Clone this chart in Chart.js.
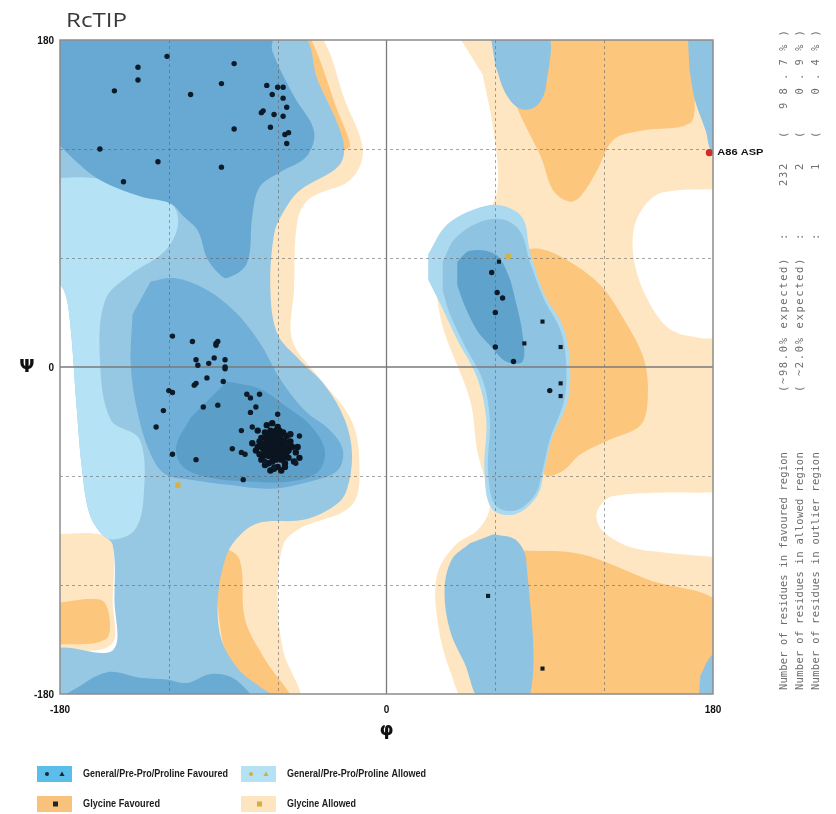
<!DOCTYPE html>
<html>
<head>
<meta charset="utf-8">
<title>RcTIP Ramachandran plot</title>
<script src="https://cdn.jsdelivr.net/npm/chart.js@4.4.0/dist/chart.umd.min.js"></script>
<style>
  html, body { margin: 0; padding: 0; background: #fff; }
  #wrap { width: 836px; height: 814px; }
</style>
</head>
<body>
<div id="wrap"><canvas id="ramaChart" width="836" height="814"></canvas></div>
<script>
// axis values (degrees)
const tickValues = [-180, 0, 180];
const gridValues = [-120, -60, 60, 120];

// region outlines as [phi, psi]
const glyAllowedRight = [[38,185],[185,185],[185,-185],[46,-185],[35,-167],[28,-139],[28,-114],[38,-98],[51,-89],[57,-76],[50,-46],[46,-18],[30,26],[30,53],[51,78],[61,97],[59,130],[53,161]];
const glyAllowedLeft = [[-53,183],[-37,183],[-23,147],[-13,119],[-20,103],[-42,93],[-49,81],[-51,42],[-52,15],[-37,-6],[-20,-28],[-15,-51],[-19,-76],[-48,-89],[-57,-98],[-60,-128],[-57,-156],[-48,-185],[-86,-185],[-94,-150],[-97,-117],[-92,-95],[-75,-73],[-70,37],[-64,92],[-59,147]];
const glyAllowedEdge = [[-183,-92],[-158,-92],[-151,-98],[-151,-128],[-152,-153],[-185,-156]];
const emptyRight = [[185,98],[152,96],[141,87],[136,74],[137,56],[144,37],[156,21],[173,16],[185,16]];
const emptyLowRight = [[185,-69],[125,-71],[116,-80],[119,-90],[134,-99],[152,-102],[185,-105]];
const glyFavTop = [[62,185],[170,185],[170,147],[167,134],[140,130],[125,125],[116,108],[107,94],[101,91],[92,97],[85,116],[75,136],[68,152]];
const glyFavMid = [[72,64],[85,65],[101,58],[118,45],[131,26],[142,4],[144,-18],[140,-32],[123,-40],[107,-48],[96,-58],[87,-59],[79,-29],[74,9],[71,37]];
const glyFavLow = [[76,-101],[107,-103],[144,-117],[185,-132],[185,-185],[76,-185]];
const glyFavEdge = [[-183,-130],[-158,-128],[-153,-136],[-155,-150],[-183,-153]];
const glyFavBand = [[-91,-98],[-81,-106],[-78,-139],[-67,-161],[-52,-185],[-75,-185],[-89,-156],[-94,-123]];
const glyFavStrip = [[-50,183],[-43,183],[-27,141],[-20,122],[-24,120],[-33,140]];

const genAllowedLeft = [[-183,183],[-48,183],[-38,158],[-24,125],[-26,111],[-48,97],[-57,85],[-62,73],[-64,42],[-60,18],[-48,4],[-34,-10],[-23,-29],[-19,-48],[-22,-68],[-28,-76],[-45,-84],[-71,-86],[-83,-95],[-89,-106],[-93,-128],[-91,-150],[-81,-167],[-61,-185],[-183,-185],[-183,-156],[-151,-156],[-150,-128],[-151,-98],[-158,-91],[-164,-80],[-168,-55],[-171,-20],[-174,20],[-177,40],[-183,50]];
const preProAllowed = [[-183,104],[-161,104],[-136,97],[-118,89],[-115,78],[-122,64],[-141,51],[-155,37],[-158,4],[-152,-29],[-136,-40],[-134,-73],[-139,-90],[-151,-95],[-158,-91],[-164,-80],[-168,-55],[-171,-20],[-174,20],[-177,40],[-183,50]];
const betaFav = [[-183,183],[-64,183],[-63,174],[-51,149],[-40,130],[-44,116],[-59,107],[-70,99],[-74,83],[-77,57],[-88,49],[-93,52],[-99,60],[-104,75],[-112,83],[-119,90],[-136,94],[-158,103],[-172,114],[-183,125]];
const betaFavBottom = [[-185,-185],[-173,-178],[-154,-168],[-136,-171],[-121,-172],[-110,-174],[-97,-169],[-85,-171],[-74,-181],[-72,-185]];
const alphaFav = [[-130,47],[-117,49],[-100,43],[-83,30],[-69,12],[-59,-6],[-45,-24],[-31,-35],[-24,-46],[-27,-57],[-42,-63],[-64,-67],[-86,-65],[-108,-62],[-122,-59],[-130,-48],[-137,-26],[-141,1],[-140,29]];
const alphaCore = [[-88,-8],[-70,-12],[-55,-22],[-42,-32],[-34,-46],[-38,-58],[-53,-63],[-75,-63],[-97,-61],[-112,-55],[-116,-44],[-108,-28]];
const leftTopBlue = [[57,185],[88,185],[88,155],[83,144],[74,142],[66,150],[60,166]];
const leftLowBlue = [[59,-92],[71,-95],[77,-106],[78,-185],[53,-185],[43,-163],[35,-145],[32,-123],[36,-106],[46,-97]];
const alphaLOuter = [[23,62],[33,78],[49,87],[63,89],[75,82],[79,64],[87,40],[97,23],[101,4],[100,-18],[91,-40],[87,-57],[83,-71],[71,-81],[58,-78],[54,-57],[55,-29],[50,-6],[39,15],[30,34],[23,48]];
const alphaLMid = [[31,58],[38,71],[52,80],[65,81],[74,74],[79,58],[87,37],[96,20],[99,3],[98,-18],[90,-40],[86,-57],[82,-70],[71,-79],[60,-76],[56,-57],[57,-29],[53,-7],[43,12],[35,29],[31,42]];
const alphaLCore = [[39,58],[46,64],[60,62],[67,51],[71,37],[75,18],[75,3],[66,3],[57,12],[50,20],[43,34],[39,45]];
const edgeStripTop = [[166,185],[185,185],[185,117],[179,119],[176,130],[170,147],[167,164]];
const edgeCornerLow = [[172,-185],[185,-185],[185,-156],[179,-159],[173,-170]];

// residues [phi, psi]
const favouredBeta = [[-121,171],[-137,165],[-137,158],[-150,152],[-108,150],[-84,167],[-91,156],[-66,155],[-60,154],[-57,154],[-63,150],[-57,148],[-55,143],[-68,141],[-69,140],[-62,139],[-57,138],[-64,132],[-84,131],[-56,128],[-54,129],[-55,123],[-158,120],[-126,113],[-91,110],[-145,102]];
const favouredAlpha = [[-118,17],[-107,14],[-94,13],[-94,12],[-93,14],[-105,4],[-104,1],[-98,2],[-95,5],[-89,4],[-89,0],[-89,-1],[-99,-6],[-106,-10],[-105,-9],[-90,-8],[-120,-13],[-118,-14],[-123,-24],[-101,-22],[-93,-21],[-127,-33],[-118,-48],[-105,-51],[-77,-15],[-75,-17],[-70,-15],[-72,-22],[-75,-25],[-80,-35],[-74,-33],[-85,-45],[-80,-47],[-78,-48],[-79,-62],[-67,-52],[-48,-38],[-50,-53],[-62,-55],[-60,-26],[-53,-37]];
const favouredCluster = [[-63,-41],[-60,-43],[-65,-38],[-58,-40],[-62,-45],[-67,-42],[-55,-44],[-61,-37],[-64,-47],[-59,-48],[-57,-36],[-69,-39],[-66,-46],[-53,-41],[-62,-50],[-60,-33],[-71,-44],[-56,-49],[-64,-35],[-68,-49],[-58,-45],[-63,-43],[-61,-40],[-66,-40],[-59,-38],[-54,-46],[-65,-44],[-62,-38],[-57,-42],[-60,-46],[-70,-41],[-52,-44],[-63,-52],[-67,-36],[-55,-38],[-61,-48],[-58,-51],[-65,-49],[-50,-47],[-72,-46],[-62,-42],[-64,-40],[-60,-41],[-59,-44],[-66,-43],[-63,-46],[-57,-47],[-68,-45],[-61,-35],[-54,-50],[-56,-53],[-60,-55],[-65,-53],[-51,-52],[-69,-51],[-62,-56],[-58,-57],[-66,-32],[-63,-31],[-71,-35],[-49,-44],[-53,-37],[-67,-54],[-48,-50],[-74,-42],[-70,-48],[-64,-57],[-56,-55],[-59,-35],[-62,-47],
  [-60,-39],[-62,-44],[-58,-42],[-64,-42],[-61,-46],[-59,-41],[-63,-39],[-57,-44],[-65,-46],[-61,-43],[-56,-41],[-66,-38],[-60,-49],[-63,-48],[-55,-47],[-67,-47],[-58,-37],[-62,-36],[-53,-43],[-69,-43],[-60,-44],[-62,-40],[-58,-48],[-64,-44],[-56,-45],[-61,-51],[-65,-41],[-59,-46],[-63,-37],[-57,-50]];
const favouredLeftHanded = [[58,52],[61,41],[64,38],[60,30],[60,11],[70,3],[90,-13]];
const glycineResidues = [[62,58],[86,25],[76,13],[96,11],[96,-9],[96,-16],[56,-126],[86,-166]];
const allowedResidues = [[-115,-65],[67,61]];
const outlierResidues = [[178,118]];
const outlierLabels = ['A86 ASP'];

// summary table printed on the right
const summaryLabels = ['Number of residues in favoured region', 'Number of residues in allowed region', 'Number of residues in outlier region'];
const summaryExpected = ['(~98.0% expected)', '( ~2.0% expected)', ''];
const summaryCounts = ['232', '2', '1'];
const summaryPercents = ['( 98.7%)', '(  0.9%)', '(  0.4%)'];

const legendLabels = ['General/Pre-Pro/Proline Favoured', 'General/Pre-Pro/Proline Allowed', 'Glycine Favoured', 'Glycine Allowed'];
const plotTitle = 'RcTIP';

const toXY = pts => pts.map(p => ({ x: p[0], y: p[1] }));

// regions, bottom layer first
const regionLayers = [
  [glyAllowedRight, '#fee6c3'],
  [glyAllowedLeft, '#fee6c3'],
  [glyAllowedEdge, '#fee6c3'],
  [emptyRight, '#ffffff'],
  [emptyLowRight, '#ffffff'],
  [glyFavTop, '#fcc67d'],
  [glyFavMid, '#fcc67d'],
  [glyFavLow, '#fcc67d'],
  [glyFavEdge, '#fcc67d'],
  [glyFavBand, '#fcc67d'],
  [glyFavStrip, '#fcc67d'],
  [genAllowedLeft, '#97c8e3'],
  [preProAllowed, '#b5e2f5'],
  [betaFavBottom, '#6aabd3'],
  [betaFav, '#67a9d2'],
  [alphaFav, '#70afd7'],
  [alphaCore, '#5b9ec8'],
  [leftTopBlue, '#8ec3e1'],
  [leftLowBlue, '#8ec3e1'],
  [alphaLOuter, '#abd9ef'],
  [alphaLMid, '#8ec3e1'],
  [alphaLCore, '#5fa3cc'],
  [edgeStripTop, '#8ec3e1'],
  [edgeCornerLow, '#8ec3e1']
];

const datasets = regionLayers.map((layer, i) => ({
  type: 'line',
  data: toXY(layer[0]),
  fill: 'shape',
  backgroundColor: layer[1],
  borderColor: 'rgba(0,0,0,0)',
  borderWidth: 0,
  pointRadius: 0,
  tension: 0.35,
  order: 1000 - i
}));

function markerSet(points, style, radius, color) {
  return {
    type: 'line',
    isMarker: true,
    data: toXY(points),
    showLine: false,
    pointStyle: style,
    pointRadius: radius,
    pointBackgroundColor: color,
    pointBorderColor: color,
    pointBorderWidth: 0,
    order: 0
  };
}

datasets.push(markerSet(favouredBeta, 'circle', 2.7, '#0d1a28'));
datasets.push(markerSet(favouredAlpha, 'circle', 2.7, '#0d1a28'));
datasets.push(markerSet(favouredCluster, 'circle', 3.2, '#0a1520'));
datasets.push(markerSet(favouredLeftHanded, 'circle', 2.7, '#0d1a28'));
datasets.push(markerSet(glycineResidues, 'rect', 2.9, '#0d1a28'));
datasets.push(markerSet(allowedResidues, 'rect', 3.8, '#d6b33f'));
datasets.push(markerSet(outlierResidues, 'circle', 3.6, '#d42a2a'));

let gridDrawn = false;

function drawGrid(chart) {
  const { ctx, chartArea: a, scales: { x, y } } = chart;
  ctx.save();
  ctx.beginPath();
  ctx.rect(a.left, a.top, a.right - a.left, a.bottom - a.top);
  ctx.clip();
  ctx.strokeStyle = 'rgba(95,95,95,0.55)';
  ctx.lineWidth = 1;
  ctx.setLineDash([3, 3]);
  gridValues.forEach(v => {
    const px = Math.round(x.getPixelForValue(v)) + 0.5;
    const py = Math.round(y.getPixelForValue(v)) + 0.5;
    ctx.beginPath(); ctx.moveTo(px, a.top); ctx.lineTo(px, a.bottom); ctx.stroke();
    ctx.beginPath(); ctx.moveTo(a.left, py); ctx.lineTo(a.right, py); ctx.stroke();
  });
  ctx.setLineDash([]);
  ctx.strokeStyle = '#7a7a7a';
  ctx.lineWidth = 1.3;
  const zx = x.getPixelForValue(0), zy = y.getPixelForValue(0);
  ctx.beginPath(); ctx.moveTo(zx, a.top); ctx.lineTo(zx, a.bottom); ctx.stroke();
  ctx.beginPath(); ctx.moveTo(a.left, zy); ctx.lineTo(a.right, zy); ctx.stroke();
  ctx.restore();
}

function fitText(ctx, text, x, y, width) {
  const w = ctx.measureText(text).width;
  ctx.save();
  ctx.translate(x, y);
  ctx.scale(width / w, 1);
  ctx.fillText(text, 0, 0);
  ctx.restore();
}

function drawTriangle(ctx, cx, cy, r, color) {
  ctx.fillStyle = color;
  ctx.beginPath();
  ctx.moveTo(cx, cy - r);
  ctx.lineTo(cx + r, cy + r * 0.8);
  ctx.lineTo(cx - r, cy + r * 0.8);
  ctx.closePath();
  ctx.fill();
}

function drawDot(ctx, cx, cy, r, color) {
  ctx.fillStyle = color;
  ctx.beginPath();
  ctx.arc(cx, cy, r, 0, Math.PI * 2);
  ctx.fill();
}

// rotated text read bottom to top, characters spread evenly from startY up to endY
function upText(ctx, text, colX, startY, endY) {
  if (!text) return;
  const pitch = (startY - endY) / text.length;
  ctx.save();
  ctx.translate(colX, startY);
  ctx.rotate(-Math.PI / 2);
  for (let k = 0; k < text.length; k++) {
    ctx.fillText(text[k], k * pitch, 0);
  }
  ctx.restore();
}

const ramaDecor = {
  id: 'ramaDecor',
  beforeDatasetsDraw() { gridDrawn = false; },
  beforeDatasetDraw(chart, args) {
    if (!gridDrawn && chart.data.datasets[args.index].isMarker) {
      drawGrid(chart);
      gridDrawn = true;
    }
  },
  afterDraw(chart) {
    const { ctx, chartArea: a, scales: { x, y } } = chart;
    ctx.save();

    // frame
    ctx.strokeStyle = '#8c8c8c';
    ctx.lineWidth = 1.5;
    ctx.strokeRect(a.left, a.top, a.right - a.left, a.bottom - a.top);

    // title
    ctx.fillStyle = '#3a3a3a';
    ctx.font = '20px "Open Sans", sans-serif';
    ctx.textAlign = 'left';
    ctx.textBaseline = 'alphabetic';
    fitText(ctx, plotTitle, 66, 27, 61);

    // tick labels
    ctx.fillStyle = '#111';
    ctx.font = 'bold 10px "Liberation Sans", Arial, sans-serif';
    ctx.textAlign = 'right';
    ctx.textBaseline = 'middle';
    tickValues.forEach(v => ctx.fillText(String(v), a.left - 6, y.getPixelForValue(v) + 1));
    ctx.textAlign = 'center';
    tickValues.forEach(v => ctx.fillText(String(v), x.getPixelForValue(v), a.bottom + 16));

    // axis titles
    ctx.font = 'bold 18px "DejaVu Sans", sans-serif';
    ctx.fillText('\u03C6', x.getPixelForValue(0), a.bottom + 36);
    ctx.fillText('\u03A8', 27, y.getPixelForValue(0));

    // outlier label
    ctx.font = 'bold 9px "Liberation Sans", Arial, sans-serif';
    ctx.textAlign = 'left';
    outlierResidues.forEach((p, i) => {
      fitText(ctx, outlierLabels[i], x.getPixelForValue(p[0]) + 8, y.getPixelForValue(p[1]), 46);
    });

    // summary text, rotated
    ctx.fillStyle = '#6e6e6e';
    ctx.font = '10.5px "DejaVu Sans Mono", monospace';
    ctx.textAlign = 'left';
    ctx.textBaseline = 'middle';
    summaryLabels.forEach((label, i) => {
      const cx = 784 + i * 16;
      upText(ctx, label, cx, 690, 452);
      upText(ctx, summaryExpected[i], cx, 392, 257);
      upText(ctx, ':', cx, 240, 233);
      const cw = summaryCounts[i].length * 8;
      upText(ctx, summaryCounts[i], cx, 162 + cw, 162);
      upText(ctx, summaryPercents[i], cx, 138, 22);
    });

    // legend
    const swatchColors = ['#5bbde9', '#b4e1f4', '#f9c27a', '#fde5c0'];
    const cols = [37, 241];
    const rows = [766, 796];
    const textW = [145, 139, 77, 69];
    legendLabels.forEach((label, i) => {
      const sx = cols[i % 2], sy = rows[Math.floor(i / 2)];
      ctx.fillStyle = swatchColors[i];
      ctx.fillRect(sx, sy, 35, 16);
      const cy = sy + 8;
      if (i === 0) { drawDot(ctx, sx + 10, cy, 2, '#1a2634'); drawTriangle(ctx, sx + 25, cy, 2.6, '#1a2634'); }
      if (i === 1) { drawDot(ctx, sx + 10, cy, 2, '#d1b03c'); drawTriangle(ctx, sx + 25, cy, 2.6, '#d1b03c'); }
      if (i === 2) { ctx.fillStyle = '#1a2634'; ctx.fillRect(sx + 16, cy - 2.5, 5, 5); }
      if (i === 3) { ctx.fillStyle = '#d1b03c'; ctx.fillRect(sx + 16, cy - 2.5, 5, 5); }
      ctx.fillStyle = '#1c1c1c';
      ctx.font = 'bold 11px "Liberation Sans", Arial, sans-serif';
      ctx.textAlign = 'left';
      ctx.textBaseline = 'middle';
      fitText(ctx, label, sx + 46, cy, textW[i]);
    });

    ctx.restore();
  }
};

const ctx = document.getElementById('ramaChart').getContext('2d');
new Chart(ctx, {
  type: 'line',
  data: { datasets: datasets },
  options: {
    responsive: false,
    animation: false,
    devicePixelRatio: 1,
    layout: { padding: { left: 60, top: 40, right: 123, bottom: 120 } },
    scales: {
      x: { type: 'linear', min: -180, max: 180, display: false },
      y: { type: 'linear', min: -180, max: 180, display: false }
    },
    plugins: {
      legend: { display: false },
      tooltip: { enabled: false }
    }
  },
  plugins: [ramaDecor]
});
</script>
</body>
</html>
